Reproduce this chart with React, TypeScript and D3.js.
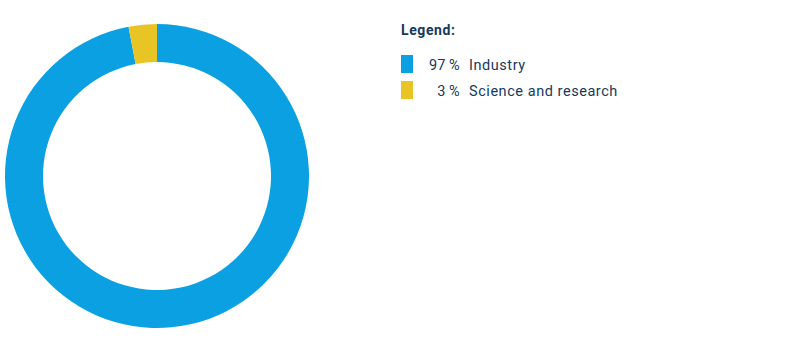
import React from "react";
import * as d3 from "d3";

const categories = ["Industry", "Science and research"];
const values = [97, 3];
const colors = ["#0ba0e1", "#e8c424"];

export default function App() {
  const cx = 157, cy = 176, outerR = 152, innerR = 114;
  const pie = d3.pie<number>().sort(null).startAngle(0).endAngle(2 * Math.PI);
  const arcs = pie(values);
  const arc = d3.arc<d3.PieArcDatum<number>>().innerRadius(innerR).outerRadius(outerR);
  const textColor = "#163a5c";
  const font = "Roboto, 'DejaVu Sans', sans-serif";
  return (
    <svg width={801} height={351} style={{ position: "absolute", left: 0, top: 0 }}>
      <rect width={801} height={351} fill="#fff" />
      <g transform={`translate(${cx},${cy})`}>
        {arcs.map((a, i) => (
          <path key={i} d={arc(a) || ""} fill={colors[i]} />
        ))}
      </g>
      <text x={401} y={35} fill={textColor} fontFamily={font} fontWeight="bold" fontSize={14} letterSpacing={0.6}>Legend:</text>
      {categories.map((c, i) => (
        <g key={c} transform={`translate(0,${55 + i * 26})`}>
          <rect x={401} y={0} width={12} height={18} fill={colors[i]} />
          <text x={460} y={15} textAnchor="end" fill={textColor} fontFamily={font} fontSize={14.5} letterSpacing={0.3}>{values[i]}{"\u2009"}%</text>
          <text x={469} y={15} fill={textColor} fontFamily={font} fontSize={14.5} letterSpacing={0.55}>{c}</text>
        </g>
      ))}
    </svg>
  );
}
